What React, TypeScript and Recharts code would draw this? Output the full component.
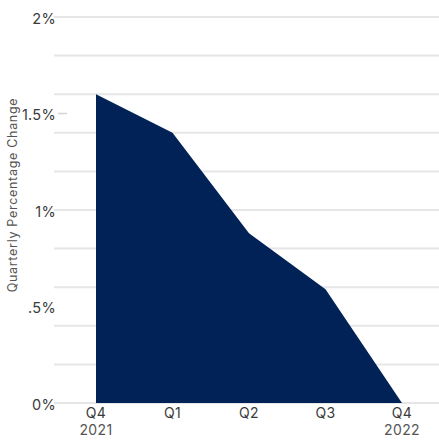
import React from 'react';
import { AreaChart, Area, XAxis, YAxis, CartesianGrid } from 'recharts';

const quarters = ['Q4', 'Q1', 'Q2', 'Q3', 'Q4'];
const years = ['2021', '', '', '', '2022'];
const changePct = [1.6, 1.4, 0.88, 0.59, 0];

const yTicks = [0, 0.5, 1, 1.5, 2];
const gridValues = [0, 0.2, 0.4, 0.6, 0.8, 1, 1.2, 1.4, 1.6, 1.8, 2];

const data = quarters.map((q, i) => ({
  period: `${q}|${years[i]}|${i}`,
  value: changePct[i],
}));

const FONT = 'Inter, "Noto Sans", sans-serif';

const formatPct = (v: number) => {
  if (v === 0) return '0%';
  const s = String(v);
  return (s.startsWith('0.') ? s.slice(1) : s) + '%';
};

const YTick = (props: any) => {
  const { x, y, payload } = props;
  return (
    <g>
      <text
        x={x + 2}
        y={y + 3}
        textAnchor="end"
        dominantBaseline="middle"
        fontFamily={FONT}
        fontSize={14.5}
        letterSpacing={0.3}
        fill="#3a3a3a"
      >
        {formatPct(payload.value)}
      </text>
      {payload.value === 1.5 && (
        <line x1={x + 4} x2={x + 13} y1={y} y2={y} stroke="#d4d4d4" strokeWidth={1.5} />
      )}
    </g>
  );
};

const XTick = (props: any) => {
  const { x, y, payload } = props;
  const [q, yr] = String(payload.value).split('|');
  return (
    <g>
      <text x={x} y={y + 7} textAnchor="middle" fontFamily={FONT} fontSize={14} letterSpacing={0.4} fill="#3a3a3a">
        {q}
      </text>
      {yr && (
        <text x={x} y={y + 24} textAnchor="middle" fontFamily={FONT} fontSize={14} letterSpacing={0.4} fill="#555555">
          {yr}
        </text>
      )}
    </g>
  );
};

export default function App() {
  return (
    <div style={{ position: 'absolute', left: 0, top: 0, width: 439, height: 442, background: '#fff' }}>
      <AreaChart width={439} height={442} data={data} margin={{ top: 17, right: 0, bottom: 0, left: 0 }}>
        <CartesianGrid
          vertical={false}
          horizontalValues={gridValues}
          stroke="#e6e6e6"
          strokeWidth={2}
        />
        <XAxis
          dataKey="period"
          height={39}
          axisLine={false}
          tickLine={false}
          tick={<XTick />}
          interval={0}
          padding={{ left: 42, right: 37 }}
        />
        <YAxis
          width={54}
          domain={[0, 2]}
          ticks={yTicks}
          axisLine={false}
          tickLine={false}
          tickSize={0}
          tickMargin={0}
          tick={<YTick />}
          label={{
            value: 'Quarterly Percentage Change',
            angle: -90,
            position: 'insideLeft',
            offset: 0,
            dx: 13,
            dy: -15,
            style: {
              fontFamily: FONT,
              fontSize: 12.5,
              letterSpacing: 0.7,
              fill: '#555555',
              textAnchor: 'middle',
            },
          }}
        />
        <Area
          type="linear"
          dataKey="value"
          stroke="none"
          fill="#012257"
          fillOpacity={1}
          isAnimationActive={false}
        />
      </AreaChart>
    </div>
  );
}
